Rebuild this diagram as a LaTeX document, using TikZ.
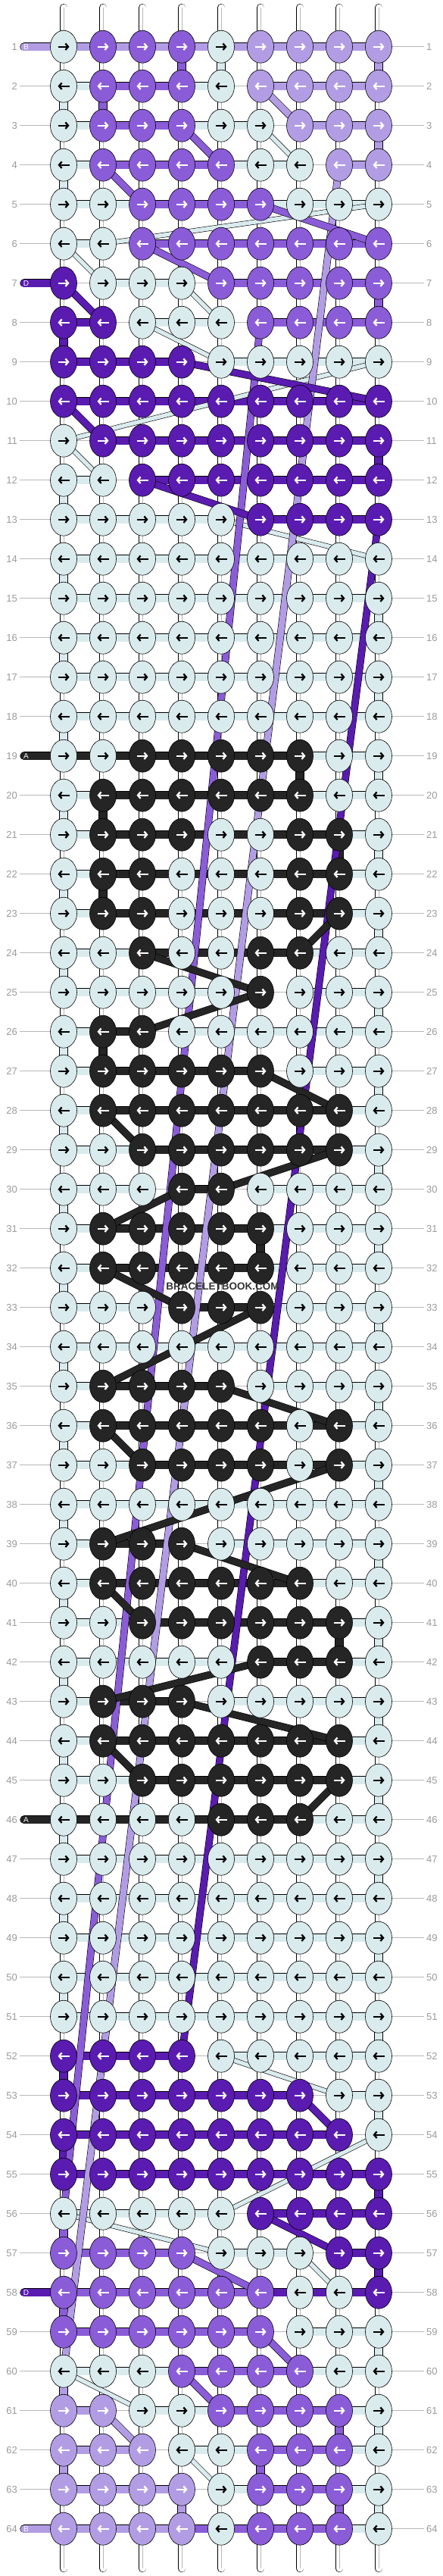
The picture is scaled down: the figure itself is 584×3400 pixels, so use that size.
\documentclass[tikz,border=0pt]{standalone}
\usepackage{fontspec}
\setmainfont{Liberation Sans}
\usetikzlibrary{arrows.meta,shapes.geometric}

\definecolor{cW}{HTML}{DAEBEE}
\definecolor{cL}{HTML}{B29DE5}
\definecolor{cM}{HTML}{8B5CD8}
\definecolor{cD}{HTML}{5A1BB1}
\definecolor{cK}{HTML}{252525}
\definecolor{rulegray}{HTML}{B8B8B8}
\definecolor{numgray}{HTML}{9A9A9A}

\tikzset{
  knot/.style={ellipse, draw=black, line width=0.6pt, minimum width=35pt, minimum height=43pt, inner sep=0pt},
  kW/.style={knot, fill=cW}, kL/.style={knot, fill=cL}, kM/.style={knot, fill=cM},
  kD/.style={knot, fill=cD}, kK/.style={knot, fill=cK},
  aW/.style={draw=black}, aL/.style={draw=white}, aM/.style={draw=white},
  aD/.style={draw=white}, aK/.style={draw=white},
  tick/.style={line width=2.3pt, -{Straight Barb[length=3.6pt,width=8.5pt]}},
  band/.style={draw=black, line width=0.6pt, double distance=10pt},
  barW/.style={band, double=cW}, barL/.style={band, double=cL}, barM/.style={band, double=cM},
  barD/.style={band, double=cD}, barK/.style={band, double=cK}, barN/.style={draw=none},
  strand/.style={draw=black, line width=0.6pt, double distance=8.5pt},
  dW/.style={strand, double=cW, double distance=5.5pt}, dL/.style={strand, double=cL},
  dM/.style={strand, double=cM}, dD/.style={strand, double=cD}, dK/.style={strand, double=cK},
  base/.style={draw=black, line width=0.6pt, double=white, double distance=9pt, line cap=round},
  basemid/.style={draw=rulegray, line width=0.5pt},
  rowline/.style={draw=rulegray, line width=0.8pt},
  rownum/.style={font=\fontsize{13}{13}\selectfont, text=numgray, inner sep=3pt},
  tag/.style={font=\fontsize{10}{10}\selectfont, text=white, inner sep=0pt}
}

% row / knot colours / bars (edge, 1-2, ..., 8-9)
\def\rowdata{%
1/{W,M,M,M,W,L,L,L,L}/{L,L,L,L,L,L,L,L,L},
2/{W,M,M,M,W,L,L,L,L}/{N,W,M,M,W,N,L,L,L},
3/{W,M,M,M,W,W,L,L,L}/{N,W,M,M,W,W,N,L,L},
4/{W,M,M,M,M,W,W,L,L}/{N,W,M,M,M,W,W,N,L},
5/{W,W,M,M,M,M,W,W,W}/{N,W,W,M,M,M,W,W,W},
6/{W,W,M,M,M,M,M,M,M}/{N,W,N,M,M,M,M,M,M},
7/{D,W,W,W,M,M,M,M,M}/{D,N,W,W,N,M,M,M,M},
8/{D,D,W,W,W,M,M,M,M}/{N,D,N,W,W,N,M,M,M},
9/{D,D,D,D,W,W,W,W,W}/{N,D,D,D,N,W,W,W,W},
10/{D,D,D,D,D,D,D,D,D}/{N,D,D,D,D,D,D,D,D},
11/{W,D,D,D,D,D,D,D,D}/{N,N,D,D,D,D,D,D,D},
12/{W,W,D,D,D,D,D,D,D}/{N,W,N,D,D,D,D,D,D},
13/{W,W,W,W,W,D,D,D,D}/{N,W,W,W,W,N,D,D,D},
14/{W,W,W,W,W,W,W,W,W}/{N,W,W,W,W,W,W,W,W},
15/{W,W,W,W,W,W,W,W,W}/{N,W,W,W,W,W,W,W,W},
16/{W,W,W,W,W,W,W,W,W}/{N,W,W,W,W,W,W,W,W},
17/{W,W,W,W,W,W,W,W,W}/{N,W,W,W,W,W,W,W,W},
18/{W,W,W,W,W,W,W,W,W}/{N,W,W,W,W,W,W,W,W},
19/{W,W,K,K,K,K,K,W,W}/{K,K,K,K,K,K,K,W,W},
20/{W,K,K,K,K,K,K,W,W}/{N,W,K,K,K,K,K,W,W},
21/{W,K,K,K,W,W,K,K,W}/{N,W,K,K,K,K,K,K,W},
22/{W,K,K,W,W,W,K,K,W}/{N,W,K,K,K,K,K,K,W},
23/{W,K,K,W,W,W,K,K,W}/{N,W,K,K,K,K,K,K,W},
24/{W,W,K,W,W,K,K,W,W}/{N,W,W,K,K,K,K,W,W},
25/{W,W,W,W,W,K,W,W,W}/{N,W,W,W,W,N,N,W,W},
26/{W,K,K,W,W,W,W,W,W}/{N,W,K,N,W,W,W,W,W},
27/{W,K,K,K,K,K,W,W,W}/{N,W,K,K,K,K,N,W,W},
28/{W,K,K,K,K,K,K,K,W}/{N,W,K,K,K,K,K,K,W},
29/{W,W,K,K,K,K,K,K,W}/{N,W,W,K,K,K,K,K,W},
30/{W,W,W,K,K,W,W,W,W}/{N,W,W,N,K,N,W,W,W},
31/{W,K,K,K,K,K,W,W,W}/{N,W,K,K,K,K,W,W,W},
32/{W,K,K,K,K,K,W,W,W}/{N,W,K,K,K,K,W,W,W},
33/{W,W,W,K,K,K,W,W,W}/{N,W,W,N,K,K,W,W,W},
34/{W,W,W,W,W,W,W,W,W}/{N,W,W,W,W,W,W,W,W},
35/{W,K,K,K,K,W,W,W,W}/{N,W,K,K,K,N,W,W,W},
36/{W,K,K,K,K,K,W,K,W}/{N,W,K,K,K,K,K,K,W},
37/{W,W,K,K,K,K,W,K,W}/{N,W,W,K,K,K,K,K,W},
38/{W,W,W,W,W,W,W,W,W}/{N,W,W,W,W,W,W,W,W},
39/{W,K,K,K,W,W,W,W,W}/{N,W,K,K,N,W,W,W,W},
40/{W,K,K,K,K,K,K,W,W}/{N,W,K,K,K,K,K,W,W},
41/{W,W,K,K,K,K,K,K,W}/{N,W,W,K,K,K,K,K,W},
42/{W,W,W,W,W,K,K,K,W}/{N,W,W,W,W,N,K,K,W},
43/{W,K,K,K,W,W,W,W,W}/{N,W,K,K,N,W,W,W,W},
44/{W,K,K,K,K,K,K,K,W}/{N,W,K,K,K,K,K,K,W},
45/{W,W,K,K,K,K,K,K,W}/{N,W,W,K,K,K,K,K,W},
46/{W,W,W,W,K,K,K,W,W}/{K,K,K,K,K,K,K,W,W},
47/{W,W,W,W,W,W,W,W,W}/{N,W,W,W,W,W,W,W,W},
48/{W,W,W,W,W,W,W,W,W}/{N,W,W,W,W,W,W,W,W},
49/{W,W,W,W,W,W,W,W,W}/{N,W,W,W,W,W,W,W,W},
50/{W,W,W,W,W,W,W,W,W}/{N,W,W,W,W,W,W,W,W},
51/{W,W,W,W,W,W,W,W,W}/{N,W,W,W,W,W,W,W,W},
52/{D,D,D,D,W,W,W,W,W}/{N,D,D,D,N,W,W,W,W},
53/{D,D,D,D,D,D,D,W,W}/{N,D,D,D,D,D,D,N,W},
54/{D,D,D,D,D,D,D,D,W}/{N,D,D,D,D,D,D,D,N},
55/{D,D,D,D,D,D,D,D,D}/{N,D,D,D,D,D,D,D,D},
56/{W,W,W,W,W,D,D,D,D}/{N,W,W,W,W,N,D,D,D},
57/{M,M,M,M,W,W,W,D,D}/{N,M,M,M,N,W,W,N,D},
58/{M,M,M,M,M,M,W,W,D}/{D,M,M,M,M,M,D,D,D},
59/{M,M,M,M,M,M,W,W,W}/{N,M,M,M,M,M,N,W,W},
60/{W,W,W,M,M,M,M,W,W}/{N,W,W,W,M,M,M,W,W},
61/{L,L,W,W,M,M,M,M,W}/{N,L,N,W,W,M,M,M,W},
62/{L,L,L,W,W,M,M,M,W}/{N,L,L,N,W,W,M,M,W},
63/{L,L,L,L,W,M,M,M,W}/{N,L,L,L,N,W,M,M,W},
64/{L,L,L,L,W,M,M,M,W}/{L,L,L,L,M,M,M,M,W}}

\begin{document}
\begin{tikzpicture}[x=1pt, y=-1pt]
  \useasboundingbox (0,0) rectangle (584,3400);

  % grid points, row numbers and rules
  \foreach \r in {1,...,64} {
    \foreach \c in {1,...,9}
      \coordinate (p-\r-\c) at ({84+52*(\c-1)}, {61.7+52*(\r-1)});
    \coordinate (e-\r) at (32, {61.7+52*(\r-1)});
    \node[rownum, anchor=east] (ln-\r) at (26, {61.7+52*(\r-1)}) {\r};
    \node[rownum, anchor=west] (rn-\r) at (560, {61.7+52*(\r-1)}) {\r};
    \draw[rowline] (ln-\r) -- (rn-\r);
  }

  % base strings
  \foreach \c in {1,...,9} {
    \coordinate (top-\c) at ({84+52*(\c-1)}, 10);
    \coordinate (bot-\c) at ({84+52*(\c-1)}, 3390);
    \draw[base] (top-\c) -- (bot-\c);
    \draw[basemid] (top-\c) -- (bot-\c);
  }

  % vertical links
  \foreach \r/\c/\col in {1/4/M,1/5/W,1/9/L,2/1/W,2/2/M,3/9/L,4/1/W,7/9/M,8/1/D,11/9/D,12/1/W,
      19/7/K,20/2/K,21/8/K,22/2/K,26/2/K,31/6/K,41/8/K,
      52/1/D,53/9/W,54/1/D,55/9/D,56/1/M,57/9/D,58/1/M,59/9/W,60/1/L,61/8/M,61/9/W,
      62/1/L,62/6/M,63/4/L,63/8/M,63/9/W} {
    \pgfmathtruncatemacro\rn{\r+1}
    \draw[bar\col] (p-\r-\c) -- (p-\rn-\c);
  }
  \foreach \r in {14,...,51} {
    \pgfmathtruncatemacro\rn{\r+1}
    \ifodd\r \draw[barW] (p-\r-9) -- (p-\rn-9); \else \draw[barW] (p-\r-1) -- (p-\rn-1); \fi
  }

  % row links
  \foreach \r/\kl/\bl in \rowdata {
    \foreach [count=\i from 0] \b in \bl {
      \ifnum\i=0
        \draw[bar\b, line cap=round] (e-\r) -- (p-\r-1);
      \else
        \pgfmathtruncatemacro\j{\i+1}
        \draw[bar\b] (p-\r-\i) -- (p-\r-\j);
      \fi
    }
  }

  % strands between rows
  \foreach \ra/\ca/\rb/\cb/\col in {3/6/4/7/W,5/9/6/2/W,6/1/7/2/W,7/4/8/5/W,8/3/9/5/W,9/9/11/1/W,
      11/1/12/2/W,13/5/14/9/W,52/5/53/8/W,54/9/56/5/W,56/1/57/5/W,57/7/58/8/W,60/1/61/3/W,62/4/63/5/W,
      2/6/3/7/L,4/8/60/1/L,61/2/62/3/L,
      3/4/4/5/M,4/2/5/3/M,5/6/6/9/M,6/3/7/5/M,8/6/56/1/M,57/4/58/6/M,59/6/60/7/M,60/4/61/5/M,
      7/1/8/2/D,9/4/10/9/D,10/1/11/2/D,12/3/13/6/D,13/9/52/4/D,53/7/54/8/D,56/6/57/8/D,
      23/8/24/7/K,24/3/25/6/K,25/6/26/3/K,27/6/28/8/K,28/2/29/3/K,29/8/30/5/K,30/4/31/2/K,
      32/2/33/4/K,33/6/35/2/K,35/5/36/8/K,36/2/37/3/K,37/8/39/2/K,39/4/40/7/K,40/2/41/3/K,
      42/6/43/2/K,43/4/44/8/K,44/2/45/3/K,45/8/46/7/K}
    \draw[d\col] (p-\ra-\ca) -- (p-\rb-\cb);

  % knots
  \foreach \r/\kl/\bl in \rowdata {
    \foreach [count=\c] \k in \kl {
      \node[k\k] (k-\r-\c) at (p-\r-\c) {};
      \ifodd\r
        \draw[tick, a\k] ([xshift=-7.5pt]k-\r-\c.center) -- ([xshift=7.5pt]k-\r-\c.center);
      \else
        \draw[tick, a\k] ([xshift=7.5pt]k-\r-\c.center) -- ([xshift=-7.5pt]k-\r-\c.center);
      \fi
    }
  }

  % thread letters
  \foreach \r/\t in {1/B,7/D,19/A,46/A,58/D,64/B}
    \node[tag] (tag-\r) at (34.5, {61.7+52*(\r-1)}) {\t};

  \node[font=\bfseries\fontsize{13.5}{13.5}\selectfont, text=black!80, inner sep=0pt] (mark) at (294,1698) {BRACELETBOOK.COM};
\end{tikzpicture}
\end{document}
